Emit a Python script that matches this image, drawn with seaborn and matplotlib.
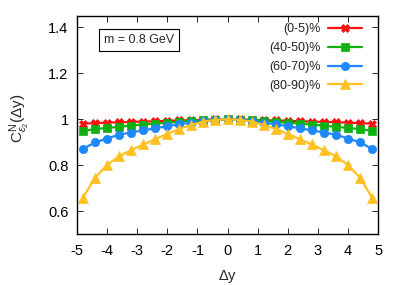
import numpy as np
import pandas as pd
import matplotlib
matplotlib.use("Agg")
import matplotlib.pyplot as plt
import seaborn as sns
from matplotlib.ticker import FormatStrFormatter

# data (left half, mirrored symmetric around 0)
dy_half = [-4.8, -4.4, -4.0, -3.6, -3.2, -2.8, -2.4, -2.0, -1.6, -1.2, -0.8, -0.4, 0.0]
c_0_5_half = [0.981, 0.983, 0.985, 0.987, 0.988, 0.990, 0.991, 0.993, 0.995, 0.996, 0.998, 0.999, 1.0]
c_40_50_half = [0.949, 0.957, 0.962, 0.967, 0.972, 0.977, 0.981, 0.985, 0.989, 0.993, 0.996, 0.998, 1.0]
c_60_70_half = [0.871, 0.899, 0.916, 0.933, 0.942, 0.952, 0.960, 0.970, 0.978, 0.985, 0.991, 0.996, 1.0]
c_80_90_half = [0.658, 0.745, 0.800, 0.839, 0.865, 0.890, 0.913, 0.936, 0.958, 0.975, 0.990, 0.997, 1.0]

labels = ["(0-5)%", "(40-50)%", "(60-70)%", "(80-90)%"]
colors = ["#ff1010", "#10b010", "#1e88ff", "#ffc020"]
markers = ["X", "s", "o", "^"]


def mirror(h):
    return list(h) + list(h[-2::-1])


dy = list(dy_half) + [-v for v in dy_half[-2::-1]]
series = [mirror(c_0_5_half), mirror(c_40_50_half), mirror(c_60_70_half), mirror(c_80_90_half)]

rows = []
for lab, vals in zip(labels, series):
    for x, y in zip(dy, vals):
        rows.append({"dy": x, "C": y, "cent": lab})
df = pd.DataFrame(rows)

sns.set_style("ticks")
plt.rcParams["font.family"] = ["Liberation Sans", "DejaVu Sans"]
plt.rcParams["mathtext.fontset"] = "custom"
plt.rcParams["mathtext.rm"] = "Liberation Sans"
plt.rcParams["mathtext.it"] = "Liberation Sans:italic"

fig = plt.figure(figsize=(4.07, 2.85), dpi=100)
ax = fig.add_axes([0.189, 0.179, 0.740, 0.765])

for lab, col, mk in zip(labels, colors, markers):
    sub = df[df["cent"] == lab]
    sns.lineplot(data=sub, x="dy", y="C", ax=ax, color=col, marker=mk,
                 markersize=6 if mk != "^" else 7, markeredgecolor=col, linewidth=1.6,
                 label=lab, markeredgewidth=0.5)

ax.set_xlim(-5, 5)
ax.set_ylim(0.5, 1.45)
ax.set_xticks(np.arange(-5, 6, 1))
ax.set_yticks([0.6, 0.8, 1.0, 1.2, 1.4])
ax.yaxis.set_major_formatter(FormatStrFormatter("%g"))
ax.xaxis.set_major_formatter(FormatStrFormatter("%g"))
ax.tick_params(direction="in", top=True, right=True, length=4, width=0.6,
               labelsize=10.5, colors="#000000")
ax.tick_params(axis="x", pad=7)
ax.tick_params(axis="y", pad=6)
for s in ax.spines.values():
    s.set_linewidth(1.0)
    s.set_color("#000000")

ax.set_xlabel(r"$\Delta$y", fontsize=10.5)
ax.set_ylabel(r"$\mathrm{C}^{\mathrm{N}}_{\varepsilon_2}(\Delta\mathrm{y})$", fontsize=11)
ax.xaxis.set_label_coords(0.5, -0.155)
ax.yaxis.set_label_coords(-0.15, 0.53)

ax.text(0.09, 0.892, "m = 0.8 GeV", transform=ax.transAxes, fontsize=9,
        va="center", ha="left",
        bbox=dict(boxstyle="square,pad=0.4", fc="white", ec="black", lw=0.8))

leg = ax.legend(loc="upper right", frameon=False, markerfirst=False, fontsize=9,
                handlelength=2.7, labelspacing=0.55, borderaxespad=0.0,
                handletextpad=0.6, bbox_to_anchor=(0.963, 0.99))

fig.savefig("out.png", dpi=100)
